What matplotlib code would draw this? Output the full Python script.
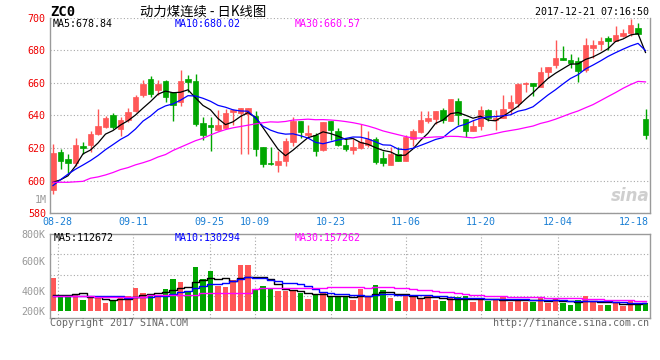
import numpy as np
import pandas as pd
import matplotlib
matplotlib.use("Agg")
import matplotlib.pyplot as plt

# ZC0 daily bars, 2017-08-25 .. 2017-12-20
opens = [594.0, 617.8, 613.0, 611.0, 621.0, 621.9, 628.7, 632.8, 640.0, 631.8,
         637.3, 643.0, 652.2, 662.5, 655.3, 661.0, 654.3, 648.5, 662.3, 660.8,
         635.4, 634.2, 631.1, 632.4, 642.0, 641.6, 641.0, 639.9, 620.5, 610.6,
         609.6, 612.0, 624.0, 636.5, 627.7, 628.1, 618.8, 636.5, 630.7, 621.9,
         619.1, 619.9, 621.9, 625.6, 613.7, 609.6, 616.4, 612.3, 625.6, 630.1,
         636.5, 637.9, 643.4, 636.3, 649.0, 637.9, 630.2, 633.6, 643.4, 637.3,
         638.3, 644.8, 647.9, 659.0, 659.7, 657.6, 666.4, 670.6, 675.3, 673.9,
         673.3, 667.8, 681.4, 683.5, 687.7, 685.5, 688.7, 690.2, 693.8, 637.9]
highs = [622.5, 619.5, 616.5, 626.2, 623.6, 630.7, 644.0, 639.5, 641.6, 638.9,
         644.4, 652.6, 661.8, 664.0, 661.4, 661.5, 654.5, 667.7, 665.0, 665.2,
         638.9, 638.9, 643.4, 644.0, 644.0, 644.6, 644.6, 643.0, 620.5, 620.5,
         618.4, 626.0, 638.9, 636.5, 634.2, 629.3, 635.8, 636.5, 632.2, 626.0,
         625.6, 634.8, 630.7, 627.0, 618.4, 620.5, 620.5, 628.1, 631.8, 643.0,
         643.0, 642.4, 644.4, 650.2, 650.6, 637.9, 637.3, 646.0, 643.8, 643.4,
         652.5, 652.5, 659.7, 660.5, 659.7, 669.4, 669.4, 686.0, 682.4, 677.4,
         675.9, 687.5, 686.1, 688.1, 688.5, 694.6, 693.2, 699.3, 696.7, 644.0]
lows = [592.0, 607.2, 605.0, 609.2, 616.4, 617.4, 627.7, 632.2, 631.8, 627.2,
        635.8, 642.0, 651.2, 651.0, 652.2, 648.0, 636.3, 645.5, 654.3, 633.8,
        625.2, 618.4, 630.7, 631.8, 634.4, 616.4, 616.4, 615.4, 608.6, 609.6,
        605.1, 609.0, 621.1, 626.0, 626.6, 615.4, 618.4, 625.0, 621.1, 618.4,
        616.4, 619.5, 620.5, 610.3, 608.9, 609.6, 612.3, 612.3, 621.1, 629.3,
        635.4, 634.8, 635.2, 636.3, 634.2, 626.5, 630.2, 631.2, 636.7, 631.2,
        638.3, 640.7, 645.4, 654.6, 651.9, 657.6, 663.1, 668.8, 673.9, 668.8,
        660.7, 666.8, 674.9, 680.0, 680.0, 685.5, 688.1, 688.7, 689.6, 625.7]
closes = [617.0, 612.3, 611.0, 621.9, 620.0, 628.7, 633.8, 638.3, 632.8, 636.9,
          642.0, 651.2, 659.4, 653.0, 659.4, 651.5, 646.1, 661.0, 660.4, 634.8,
          628.1, 632.8, 634.4, 641.6, 643.4, 644.6, 644.6, 619.5, 610.3, 610.3,
          611.9, 624.5, 636.5, 629.7, 629.3, 618.4, 635.8, 631.1, 621.9, 619.5,
          620.9, 623.6, 625.6, 611.7, 610.9, 616.4, 612.3, 627.0, 630.7, 636.9,
          638.5, 642.4, 637.3, 650.2, 640.5, 630.2, 633.2, 643.4, 638.3, 638.3,
          644.0, 648.1, 659.3, 660.0, 658.0, 666.4, 669.4, 675.4, 673.9, 671.9,
          667.2, 683.1, 683.1, 685.5, 685.5, 689.2, 690.8, 695.3, 689.8, 627.7]
# volume in thousands
volumes = [515, 229, 229, 244, 166, 208, 208, 125, 151, 203,
           234, 359, 281, 229, 244, 338, 494, 452, 296, 681,
           494, 619, 385, 374, 478, 712, 712, 322, 385, 338,
           307, 312, 307, 281, 182, 244, 270, 208, 229, 229,
           166, 338, 208, 400, 322, 192, 151, 260, 218, 192,
           229, 166, 151, 192, 208, 229, 140, 182, 156, 182,
           208, 140, 182, 140, 140, 208, 125, 192, 114, 88,
           166, 229, 140, 88, 88, 140, 73, 151, 88, 114]

# moving averages for the first bars (need data before the window)
ma5_head = [599.0, 600.5, 603.0, 609.0]
ma10_head = [597.0, 600.6, 604.0, 607.0, 609.6, 612.3, 615.4, 619.0, 622.1]
ma30_head = [599.0, 599.0, 599.0, 599.3, 599.6, 601.5, 602.3, 603.5, 605.0, 606.8,
             608.0, 609.7, 611.0, 612.5, 614.5, 616.0, 618.5, 620.5, 622.5, 624.5,
             626.0, 628.0, 629.8, 631.3, 632.4, 633.2, 634.0, 634.8, 635.5]
vma5_head = [240, 240, 240, 262]
vma10_head = [222, 222, 222, 222, 224, 224, 225, 226, 227]
vma30_head = [232, 232, 232, 232, 232, 232, 210, 210, 210, 210,
              210, 210, 210, 242, 242, 242, 242, 242, 242, 242,
              270, 270, 270, 270, 270, 270, 270, 345, 352]

date_pos = [0.6, 10.7, 20.9, 26.9, 37.1, 47.1, 57.1, 67.3, 77.5]
date_labels = ['08-28', '09-11', '09-25', '10-09', '10-23', '11-06', '11-20', '12-04', '12-18']
price_ticks = [580, 600, 620, 640, 660, 680, 700]
vol_ticks = [0, 312, 780, 1190]
vol_tick_labels = ['200K', '400K', '600K', '800K']
vol_grid = [234, 557, 880]

ma_text = ['MA5:678.84', 'MA10:680.02', 'MA30:660.57']
vma_text = ['MA5:112672', 'MA10:130294', 'MA30:157262']

UP = '#ff5757'
DOWN = '#00a600'
GRID = '#a8a8a8'
BORDER = '#9a9a9a'
MA_COLS = ['black', '#0000ff', '#ff00ff']
FS = 7.2

plt.rcParams['font.family'] = 'DejaVu Sans Mono'


def ma(vals, n, head):
    r = pd.Series(vals, dtype=float).rolling(n).mean().to_numpy()
    r[:n - 1] = head
    return r


o = np.array(opens)
h = np.array(highs)
l = np.array(lows)
c = np.array(closes)
v = np.array(volumes, dtype=float)
x = np.arange(len(c))
cols = np.where(c >= o, UP, DOWN)

W, H = 660, 360
fig = plt.figure(figsize=(6.6, 3.6), dpi=100)


def fx(px):
    return px / W


def fy(py):
    return 1 - py / H


ax = fig.add_axes([fx(50), fy(213.3), 600 / W, (213.3 - 17.5) / H])
axv = fig.add_axes([fx(50), fy(317.7), 600 / W, (317.7 - 234.3) / H])

# price panel
ax.set_xlim(-0.4, 79.6)
ax.set_ylim(580, 700)
ax.set_axisbelow(True)
ax.vlines(x, l, h, colors=cols, lw=1)
ax.bar(x, np.abs(c - o), bottom=np.minimum(o, c), width=0.78,
       color=cols, edgecolor=cols, lw=0.5)
ax.plot(x, ma(c, 5, ma5_head), color=MA_COLS[0], lw=0.9)
ax.plot(x, ma(c, 10, ma10_head), color=MA_COLS[1], lw=0.9)
ax.plot(x, ma(c, 30, ma30_head), color=MA_COLS[2], lw=0.9)

ax.set_yticks(price_ticks)
ax.tick_params(axis='y', length=0, pad=3, labelcolor='#ee0000', labelsize=FS)
ax.set_xticks(date_pos, date_labels)
ax.set_xticks(date_pos[:-1], minor=True)
ax.tick_params(axis='x', which='both', length=0, pad=3, labelcolor='#1a7fd4', labelsize=FS)
ax.grid(True, which='major', axis='y', color=GRID, linestyle=(0, (1, 2)), lw=0.8)
ax.grid(True, which='minor', axis='x', color=GRID, linestyle=(0, (1, 2)), lw=0.8)
ax.spines['top'].set_visible(False)
for s in ['left', 'right', 'bottom']:
    ax.spines[s].set_color(BORDER)
    ax.spines[s].set_linewidth(1)

for txt, col, px in zip(ma_text, MA_COLS, [53, 175, 295]):
    fig.text(fx(px), fy(24), txt, color=col, fontsize=FS, va='center')

ax.text(1.0, 0.04, 'sina', transform=ax.transAxes, ha='right', va='bottom',
        fontsize=12, style='italic', fontweight='bold', color='#cfcfcf',
        family='DejaVu Sans')

# volume panel
axv.set_xlim(-0.4, 79.6)
axv.set_ylim(-109, 1192)
axv.set_axisbelow(True)
axv.bar(x, v, width=0.78, color=cols, lw=0)
axv.plot(x, ma(v, 5, vma5_head), color=MA_COLS[0], lw=1, drawstyle='steps-mid')
axv.plot(x, ma(v, 10, vma10_head), color=MA_COLS[1], lw=1, drawstyle='steps-mid')
axv.plot(x, ma(v, 30, vma30_head), color=MA_COLS[2], lw=1, drawstyle='steps-mid')

axv.set_yticks(vol_ticks, vol_tick_labels)
axv.set_yticks(vol_grid, minor=True)
axv.tick_params(axis='y', which='both', length=0, pad=3.5, labelcolor='#999999', labelsize=FS)
axv.set_xticks([])
axv.set_xticks(date_pos[:-1], minor=True)
axv.tick_params(axis='x', which='both', length=0, labelbottom=False)
axv.grid(True, which='minor', color=GRID, linestyle=(0, (1, 2)), lw=0.8)
for s in axv.spines.values():
    s.set_color(BORDER)
    s.set_linewidth(1)

for txt, col, px in zip(vma_text, MA_COLS, [54, 175, 295]):
    fig.text(fx(px), fy(238), txt, color=col, fontsize=FS, va='center')

# header / footer
fig.text(fx(50), fy(12), 'ZC0', fontsize=10, fontweight='bold', va='center')
fig.text(fx(140), fy(12), '动力煤连续 - 日K线图', fontsize=9.6, va='center',
         family=['Noto Sans CJK SC', 'DejaVu Sans'])
fig.text(fx(649), fy(12), '2017-12-21 07:16:50', fontsize=FS, ha='right', va='center')
fig.text(fx(47), fy(200), '1M', fontsize=FS, ha='right', va='center', color='#999999')
fig.text(fx(50), fy(323), 'Copyright 2017 SINA.COM', fontsize=FS, va='center', color='#666666')
fig.text(fx(649), fy(323), 'http://finance.sina.com.cn', fontsize=FS, ha='right',
         va='center', color='#666666')

fig.savefig('out.png', dpi=100)
